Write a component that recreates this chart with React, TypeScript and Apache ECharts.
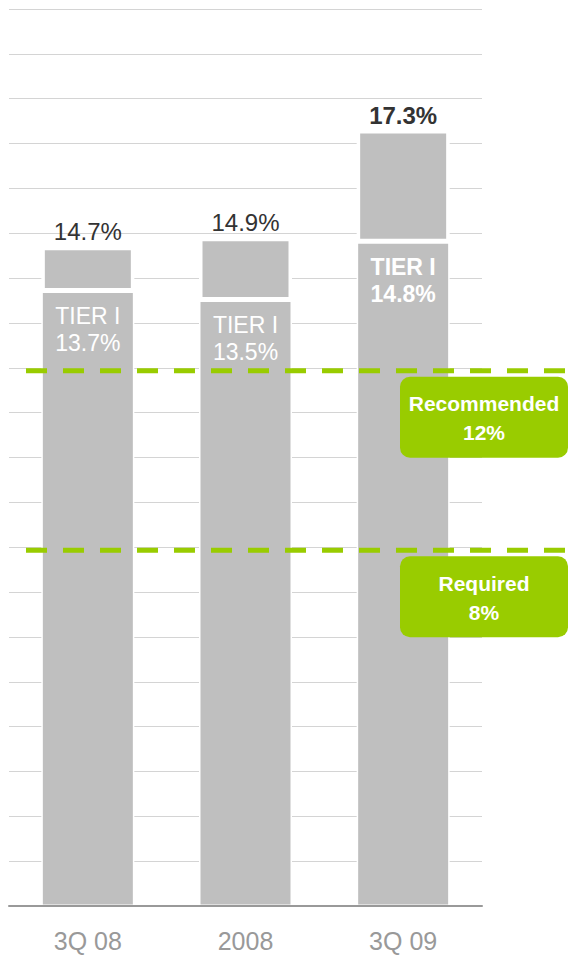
import React, { useEffect, useRef } from "react";
import * as echarts from "echarts";

// Capital ratios (%) per period
const categories = ["3Q 08", "2008", "3Q 09"];
const totalCapital = [14.7, 14.9, 17.3];
const tierOneCapital = [13.7, 13.5, 14.8];
const highlighted = [false, false, true];

// Regulatory thresholds (%)
const thresholdNames = ["Recommended", "Required"];
const thresholdValues = [12, 8];

// Value axis range
const axisMin = 0;
const axisMax = 20;
const axisStep = 1;

const FONT = '"Liberation Sans", Arial, Helvetica, sans-serif';
const GREEN = "#99cc00";
const BAR = "#bfbfbf";

export default function App() {
  const ref = useRef<HTMLDivElement>(null);

  useEffect(() => {
    document.body.style.margin = "0";
    const el = ref.current as HTMLDivElement;
    const chart = echarts.init(el, null, { renderer: "svg" });

    const upperPart = totalCapital.map(
      (t, i) => Math.round((t - tierOneCapital[i]) * 10) / 10
    );

    chart.setOption({
      animation: false,
      textStyle: { fontFamily: FONT },
      grid: { left: 9, right: 86, top: 9, bottom: 50 },
      xAxis: {
        type: "category",
        data: categories,
        z: 3,
        axisLine: { lineStyle: { color: "#999999", width: 2 } },
        axisTick: { show: false },
        axisLabel: {
          color: "#999999",
          fontSize: 25,
          fontFamily: FONT,
          margin: 22,
        },
      },
      yAxis: {
        type: "value",
        min: axisMin,
        max: axisMax,
        interval: axisStep,
        axisLine: { show: false },
        axisTick: { show: false },
        axisLabel: { show: false },
        splitLine: { lineStyle: { color: "#d4d4d4", width: 1 } },
      },
      series: [
        {
          name: "Tier I",
          type: "bar",
          stack: "capital",
          barWidth: 93,
          itemStyle: { color: BAR, borderColor: "#ffffff", borderWidth: 1.5 },
          data: tierOneCapital.map((v, i) => ({
            value: v,
            label: { fontWeight: highlighted[i] ? "bold" : "normal" },
          })),
          label: {
            show: true,
            position: "insideTop",
            distance: 11,
            color: "#ffffff",
            fontSize: 23,
            lineHeight: 27,
            fontFamily: FONT,
            formatter: (p: any) =>
              `TIER I\n${tierOneCapital[p.dataIndex].toFixed(1)}%`,
          },
        },
        {
          name: "Total",
          type: "bar",
          stack: "capital",
          barWidth: 93,
          itemStyle: { color: BAR, borderColor: "#ffffff", borderWidth: 3.5 },
          data: upperPart.map((v, i) => ({
            value: v,
            label: { fontWeight: highlighted[i] ? "bold" : "normal" },
          })),
          label: {
            show: true,
            position: "top",
            distance: 3,
            color: "#333333",
            fontSize: 24,
            fontFamily: FONT,
            formatter: (p: any) => `${totalCapital[p.dataIndex].toFixed(1)}%`,
          },
        },
      ],
    });

    // Dashed threshold lines with their callout boxes
    const graphics: any[] = [];
    thresholdValues.forEach((v, i) => {
      const y = chart.convertToPixel({ yAxisIndex: 0 }, v) as number;
      const lineY = y + 3;
      graphics.push({
        type: "line",
        z: 100,
        shape: { x1: 26, y1: lineY, x2: 568, y2: lineY },
        style: { stroke: GREEN, lineWidth: 5, lineDash: [21, 16] },
      });
      const boxTop = lineY + 6;
      const boxH = 81;
      graphics.push({
        type: "rect",
        z: 100,
        shape: { x: 400, y: boxTop, width: 168, height: boxH, r: 10 },
        style: { fill: GREEN },
      });
      graphics.push({
        type: "text",
        z: 101,
        x: 484,
        y: boxTop + boxH / 2 + 1,
        style: {
          text: `${thresholdNames[i]}\n${v}%`,
          fill: "#ffffff",
          font: `bold 21px ${FONT}`,
          lineHeight: 29,
          align: "center",
          verticalAlign: "middle",
        },
      });
    });
    chart.setOption({ graphic: graphics });

    return () => chart.dispose();
  }, []);

  return <div ref={ref} style={{ width: 568, height: 956 }} />;
}
